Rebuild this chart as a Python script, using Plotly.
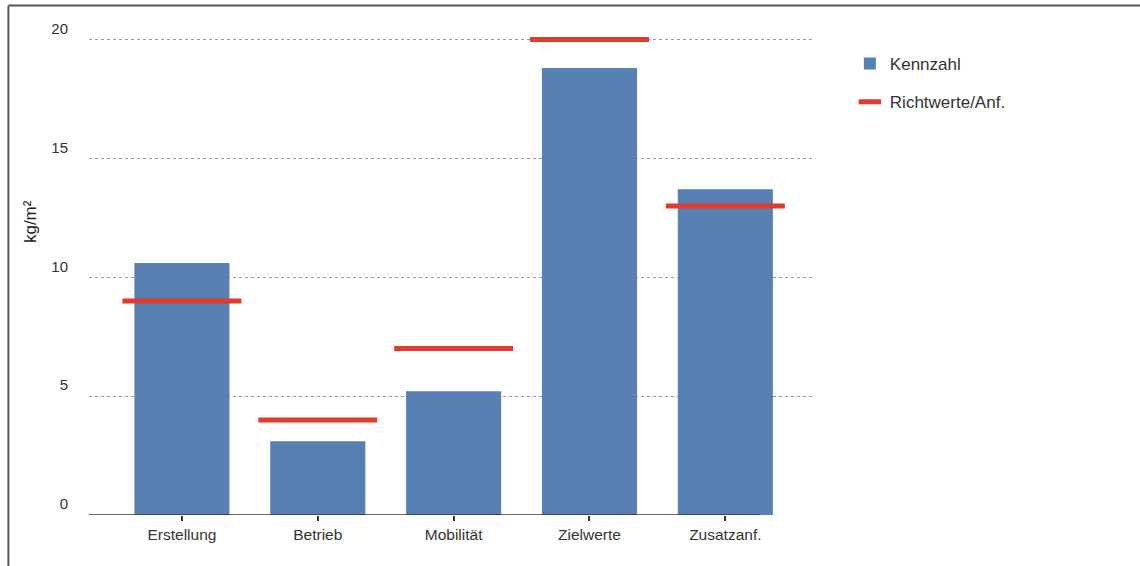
import plotly.graph_objects as go

categories = ["Erstellung", "Betrieb", "Mobilität", "Zielwerte", "Zusatzanf."]
kennzahl = [10.6, 3.1, 5.2, 18.8, 13.7]
richtwerte = [9, 4, 7, 20, 13]
y_ticks = [0, 5, 10, 15, 20]

BLUE = "#5880b3"
RED = "#e23b2a"

fig = go.Figure()
fig.add_trace(go.Bar(
    x=categories, y=kennzahl, name="Kennzahl", width=0.7,
    marker=dict(color=BLUE, line=dict(width=0)), legendgroup="a",
))
fig.add_trace(go.Scatter(
    x=categories, y=richtwerte, name="Richtwerte/Anf.", mode="markers",
    marker=dict(symbol="line-ew", size=85, color=RED, line=dict(color=RED, width=5)),
    cliponaxis=False, legendgroup="b",
))

fig.update_layout(
    width=1140, height=566,
    margin=dict(l=89, r=325, t=30, b=51),
    paper_bgcolor="white", plot_bgcolor="white",
    font=dict(family="Liberation Sans, Arial, sans-serif", size=15, color="#333333"),
    showlegend=True,
    legend=dict(
        x=1.048, y=0.967, xanchor="left", yanchor="top",
        traceorder="grouped", tracegroupgap=13,
        font=dict(size=17, color="#333333"),
        bgcolor="rgba(0,0,0,0)",
    ),
    xaxis=dict(
        type="category", range=[-0.684, 4.66],
        showgrid=False, zeroline=False, showline=False,
        ticks="outside", ticklen=5, tickwidth=1.5, tickcolor="#333333",
        tickfont=dict(size=15.5, color="#333333"),
    ),
    yaxis=dict(
        range=[0, 20.4], tickvals=y_ticks,
        showgrid=True, gridcolor="#9a9a9a", gridwidth=1, griddash="dot",
        zeroline=False, showline=False, ticks="",
        ticklabelstandoff=20, ticklabelshift=-11,
        tickfont=dict(size=15, color="#333333"),
    ),
    shapes=[
        # x axis baseline
        dict(type="line", xref="x domain", yref="y", x0=0, x1=0.924, y0=0, y1=0,
             line=dict(color="#333333", width=1.5), layer="above"),
        # image frame: top and left edges
        dict(type="line", xref="paper", yref="paper", x0=-0.111, x1=1.5, y0=1.0505, y1=1.0505,
             line=dict(color="#555555", width=2)),
        dict(type="line", xref="paper", yref="paper", x0=-0.111, x1=-0.111, y0=1.0505, y1=-0.12,
             line=dict(color="#555555", width=2)),
    ],
    annotations=[
        dict(text="kg/m²", xref="paper", yref="paper", x=-0.0813, y=0.606,
             textangle=-90, showarrow=False, font=dict(size=17, color="#222222"),
             xanchor="center", yanchor="middle"),
    ],
)

fig.write_html("out.html")
